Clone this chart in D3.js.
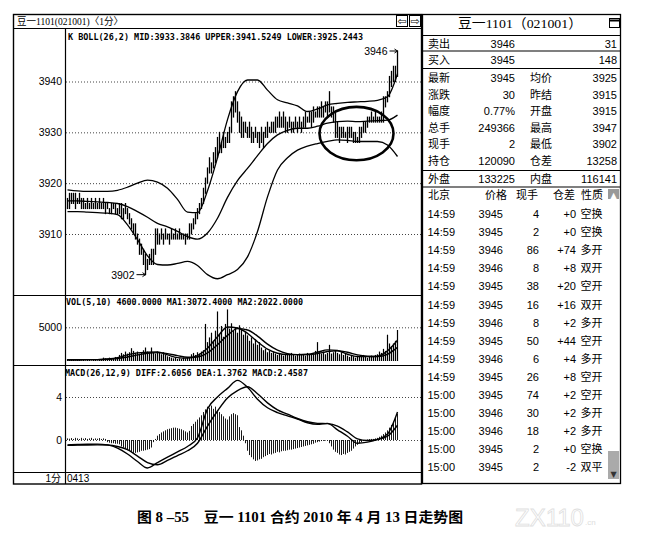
<!DOCTYPE html>
<html><head><meta charset="utf-8">
<script src="https://cdn.jsdelivr.net/npm/d3@7/dist/d3.min.js"></script>
<style>html,body{margin:0;padding:0;background:#fff}svg{display:block}</style>
</head><body>
<svg id="chart" width="663" height="540"></svg>
<script>
// ---------------- DATA ----------------
const barHigh = [
3917,3918,3918,3918,3918,3917,3918,3917,3917,3916,
3917,3916,3917,3916,3917,3916,3917,3916,3917,3916,
3916,3915,3916,3916,3916,3915,3916,3916,3915,3916,
3915,3914,3913,3912,3912,3910,3909,3908,3907,3906,
3905,3906,3907,3907,3911,3911,3910,3911,3910,3911,
3910,3910,3911,3910,3911,3910,3911,3910,3910,3910,
3910,3912,3912,3913,3914,3915,3916,3917,3919,3921,
3923,3925,3924,3926,3927,3929,3930,3928,3930,3929,
3930,3931,3936,3937,3938,3936,3934,3933,3932,3932,
3931,3932,3931,3930,3931,3930,3930,3931,3930,3931,
3932,3931,3932,3932,3933,3933,3934,3933,3934,3933,
3932,3933,3932,3932,3933,3932,3933,3932,3933,3934,
3933,3934,3934,3935,3934,3935,3935,3936,3935,3936,
3936,3938,3935,3935,3934,3932,3931,3931,3931,3930,
3931,3931,3931,3930,3930,3929,3931,3931,3932,3932,
3933,3933,3934,3933,3934,3933,3933,3934,3937,3937,
3938,3941,3942,3943,3943,3946];
const barLow = [
3915,3915,3916,3916,3915,3916,3916,3915,3915,3915,
3915,3915,3915,3915,3915,3915,3915,3915,3915,3914,
3915,3914,3914,3915,3914,3914,3914,3913,3913,3914,
3913,3912,3911,3910,3909,3908,3906,3906,3904,3902,
3903,3904,3904,3904,3906,3908,3908,3909,3908,3909,
3909,3908,3909,3909,3909,3909,3909,3909,3909,3908,
3909,3909,3910,3911,3912,3913,3914,3915,3916,3918,
3920,3922,3922,3923,3924,3925,3926,3926,3927,3927,
3928,3928,3930,3933,3934,3932,3930,3929,3929,3930,
3929,3929,3928,3928,3929,3928,3927,3928,3927,3929,
3929,3930,3930,3930,3930,3931,3931,3931,3931,3930,
3930,3931,3930,3930,3931,3930,3931,3930,3931,3931,
3932,3932,3931,3932,3933,3933,3933,3933,3933,3934,
3933,3934,3933,3932,3929,3929,3928,3929,3929,3929,
3928,3929,3929,3928,3928,3928,3928,3929,3930,3930,
3931,3932,3932,3932,3932,3932,3932,3932,3932,3935,
3936,3937,3939,3940,3940,3941];
const volume = [
300,200,150,200,100,150,200,100,150,100,200,150,100,150,200,100,150,
300,500,400,300,500,400,300,600,500,
900,1200,1000,1400,1100,1300,1900,1500,1200,1400,1100,1300,1600,2000,1400,1200,
2000,1300,1100,1400,1200,1000,1300,900,
700,600,500,400,500,300,400,300,500,400,600,500,
1000,1200,900,1300,1100,1400,1600,
5500,
2800,3500,4200,3000,4500,
7350,
4000,5200,3600,5500,
7650,
4800,5600,4500,5000,4200,5300,4600,3900,4400,
3800,3000,3500,2600,3200,2400,2800,
2000,1600,1800,1300,1500,1200,1400,
1100,900,1200,1000,800,1100,900,1000,1200,900,800,1000,1100,900,1000,800,1200,900,
1000,1200,1500,2800,1300,1100,1400,1000,1200,2400,1100,1300,1500,1200,1000,1300,900,1100,
800,600,900,700,500,800,600,700,900,600,500,700,800,600,900,
1000,1400,1200,1800,1500,3900,
2600,2200,2600,3000,4600];
const macdHist = [
0.15,0.12,0.18,0.1,0.2,0.15,0.1,0.2,0.12,0.18,0.1,0.15,0.2,0.1,0.15,0.12,0.18,0.1,0.15,0.1,
-0.2,-0.25,-0.3,-0.3,-0.35,-0.35,
-0.4,-0.6,-0.7,-0.8,-0.95,-1.0,-1.1,-1.2,-1.2,-1.15,-1.1,-1.0,-1.0,-0.95,-0.9,-0.85,-0.7,
-0.2,0.1,
0.4,0.55,0.7,0.8,0.9,1.0,1.05,1.1,1.15,1.15,1.1,1.05,1.0,0.9,0.8,0.7,0.85,
1.3,1.5,1.7,1.9,2.1,2.3,2.6,2.85,3.1,
3.0,3.2,2.9,3.1,2.8,
2.6,2.4,2.2,2.0,1.9,
2.2,2.4,2.5,2.4,2.3,
1.2,0.9,0.4,
-0.3,
-1.0,-1.4,-1.6,-1.8,-1.95,-1.9,-1.8,-1.75,
-1.6,-1.5,-1.4,-1.3,-1.35,-1.25,-1.2,-1.1,-1.15,-1.05,-1.0,-1.0,-0.95,-0.9,-0.9,-0.85,
-0.8,-0.75,-0.7,-0.65,-0.6,-0.55,-0.5,-0.45,-0.4,-0.35,
-0.25,-0.2,-0.15,-0.1,-0.08,-0.05,-0.05,
-0.3,-0.6,-0.9,-1.1,-1.2,-1.35,-1.4,-1.3,-1.35,-1.2,-1.1,-1.0,
-0.8,-0.6,-0.45,-0.3,-0.2,
-0.1,0.0,0.05,0.08,0.1,0.1,
0.15,0.2,0.3,0.4,0.55,0.7,0.9,1.15,1.4,1.7,2.1,2.4587];

// indicator lines, read at every 5th bar
const lineBars = [0,5,10,15,20,25,30,35,40,45,50,55,60,65,70,75,80,85,90,95,100,105,110,115,120,125,130,135,140,145,150,155,160,165];
const bollUpper = [3918.7,3918.5,3918.4,3918.4,3918.4,3918.6,3919.2,3920.0,3920.6,3920.2,3919.0,3916.8,3914.3,3914.2,3918.5,3925.0,3932.5,3938.0,3940.3,3940.3,3938.3,3936.4,3935.8,3935.2,3934.1,3934.6,3935.4,3935.7,3935.9,3936.0,3936.1,3936.3,3937.0,3941.5249];
const bollMid = [3916.5,3916.5,3916.4,3916.3,3916.2,3916.0,3915.4,3914.4,3913.3,3912.1,3911.4,3910.5,3909.5,3909.0,3910.2,3913.1,3917.2,3920.5,3922.9,3925.4,3927.8,3929.5,3930.4,3930.8,3930.8,3931.2,3931.8,3932.1,3932.2,3932.1,3932.2,3932.3,3932.4,3933.3846];
const bollLower = [3914.4,3914.4,3914.3,3914.2,3914.1,3913.8,3911.8,3908.9,3905.7,3904.0,3903.9,3904.2,3904.6,3903.8,3902.0,3901.2,3902.0,3903.0,3905.5,3910.5,3917.3,3922.6,3925.0,3926.5,3927.3,3927.8,3928.2,3928.5,3928.4,3928.2,3928.2,3928.2,3927.5,3925.2443];
const volMA1 = [150,150,200,200,300,500,900,1200,1300,1350,900,500,420,800,1900,3600,5050,4900,4100,2850,1750,1150,950,950,1000,1300,1650,1550,1000,650,650,700,1500,3072.4];
const volMA2 = [200,200,200,200,250,350,600,900,1150,1250,1100,800,550,600,1200,2400,3800,4800,4600,3700,2500,1600,1100,950,950,1100,1400,1500,1300,900,700,650,1000,2022];
const diffLine = [-0.45,-0.42,-0.4,-0.38,-0.45,-0.75,-1.3,-2.0,-2.6,-2.1,-1.6,-1.1,-0.6,0.2,2.9,4.0,4.8,5.55,4.9,3.8,3.0,2.55,2.25,1.95,1.6,1.45,1.55,0.95,0.35,-0.3,-0.2,0.05,0.55,2.6056];
const deaLine = [-0.5,-0.48,-0.46,-0.45,-0.47,-0.6,-0.9,-1.5,-2.1,-2.3,-1.9,-1.45,-1.0,-0.3,1.3,2.7,3.9,4.6,4.95,4.3,3.45,2.8,2.4,2.0,1.7,1.55,1.52,1.3,0.75,0.1,-0.05,0.05,0.35,1.3762];

const priceTicks = [3910,3920,3930,3940];
const volTicks = [5000];
const macdTicks = [0,4];

// right-hand quote panel
const contractTitle = "豆一1101（021001）";
const askBidLabels = ["卖出","买入"];
const askBidPrices = ["3946","3945"];
const askBidSizes = ["31","148"];
const quoteLabelsA = ["最新","涨跌","幅度","总手","现手","持仓"];
const quoteValuesA = ["3945","30","0.77%","249366","2","120090"];
const quoteLabelsB = ["均价","昨结","开盘","最高","最低","仓差"];
const quoteValuesB = ["3925","3915","3915","3947","3902","13258"];
const outerInner = ["外盘","133225","内盘","116141"];
const tickHeader = ["北京","价格","现手","仓差","性质"];
const tickTime  = ["14:59","14:59","14:59","14:59","14:59","14:59","14:59","14:59","14:59","14:59","15:00","15:00","15:00","15:00","15:00"];
const tickPrice = [3945,3945,3946,3946,3945,3945,3946,3945,3946,3945,3945,3946,3946,3945,3945];
const tickVol   = [4,2,86,8,38,16,8,50,6,26,74,30,18,2,2];
const tickOI    = ["+0","+0","+74","+8","+20","+16","+2","+44","+4","+8","+2","+2","+2","+0","-2"];
const tickType  = ["空换","空换","多开","双开","空开","双开","多开","空开","多开","空开","空开","多开","多开","空换","双平"];

const caption = "图 8 –55　豆一 1101 合约 2010 年 4 月 13 日走势图";

// ---------------- DRAW ----------------
const SANS = '"Liberation Sans", Arial, "Noto Sans CJK SC", sans-serif';
const MONO = '"DejaVu Sans Mono", "Liberation Mono", monospace';
const SERIF = '"Liberation Serif", "Noto Sans CJK SC", serif';
const svg = d3.select("#chart");
const N = barHigh.length;
const last = lineBars.length - 1;

const x = d3.scaleLinear().domain([0, N - 1]).range([67.5, 397.5]);
const yP = d3.scaleLinear().domain([3910, 3940]).range([234, 81.5]);
const yV = d3.scaleLinear().domain([0, 5000]).range([361, 327.3]);
const yM = d3.scaleLinear().domain([0, 4]).range([440, 397]);

function hline(y, x1, x2, w) { svg.append("line").attr("x1", x1).attr("x2", x2).attr("y1", y).attr("y2", y).attr("stroke", "#000").attr("stroke-width", w || 1); }
function vline(xx, y1, y2, w) { svg.append("line").attr("x1", xx).attr("x2", xx).attr("y1", y1).attr("y2", y2).attr("stroke", "#000").attr("stroke-width", w || 1); }
function text(s, xx, yy, size, opts) {
  opts = opts || {};
  const t = svg.append("text").attr("x", xx).attr("y", yy).attr("font-size", size)
    .attr("font-family", opts.family || SANS).attr("fill", opts.fill || "#000")
    .attr("text-anchor", opts.anchor || "start").text(s);
  if (opts.weight) t.attr("font-weight", opts.weight);
  if (opts.len) t.attr("textLength", opts.len).attr("lengthAdjust", "spacingAndGlyphs");
  return t;
}

// grid lines (dotted)
function grid(scale, ticks) {
  const g = svg.append("g").attr("transform", "translate(66,0)")
    .call(d3.axisRight(scale).tickValues(ticks).tickSize(355).tickFormat(""));
  g.select(".domain").remove();
  g.selectAll(".tick line").attr("stroke", "#444").attr("stroke-dasharray", "1,2").attr("stroke-width", 1);
}
grid(yP, priceTicks); grid(yV, volTicks); grid(yM, macdTicks);

// axis labels
function labels(scale, ticks) {
  const g = svg.append("g").attr("transform", "translate(62,0)")
    .call(d3.axisLeft(scale).tickValues(ticks).tickSize(0).tickPadding(0).tickFormat(d3.format("d")));
  g.select(".domain").remove();
  g.attr("font-family", SANS).attr("font-size", 10.5);
  g.selectAll("text").attr("fill", "#000");
}
labels(yP, priceTicks); labels(yV, volTicks); labels(yM, macdTicks);

// frames of left chart
svg.append("rect").attr("x", 13.5).attr("y", 14.5).attr("width", 408).attr("height", 469.5)
  .attr("fill", "none").attr("stroke", "#000").attr("stroke-width", 1.4);
hline(28.5, 13, 422, 1.2);
vline(65.5, 28.5, 484, 1.2);
hline(295.5, 13, 422, 1.2);
hline(365.5, 13, 422, 1.2);
hline(472.5, 13, 422, 1.2);

// header of left chart
text("豆一1101(021001)〈1分〉", 17, 25, 10, { family: SERIF, len: 106 });
[[396, "⇦"], [409, "⇨"]].forEach(([bx, a]) => {
  svg.append("rect").attr("x", bx + 0.5).attr("y", 15.5).attr("width", 11).attr("height", 11).attr("fill", "#fff").attr("stroke", "#000");
  text(a, bx + 6, 25, 11, { anchor: "middle", family: '"DejaVu Sans", sans-serif' });
});

// indicator headers
const f4 = d3.format(".4f");
text(`K  BOLL(26,2) MID:${f4(bollMid[last])} UPPER:${f4(bollUpper[last])} LOWER:${f4(bollLower[last])}`, 68, 40, 8.6, { family: MONO, weight: "bold", len: 295 });
text(`VOL(5,10) ${f4(volume[N - 1])} MA1:${f4(volMA1[last])} MA2:${f4(volMA2[last])}`, 66, 305, 8.6, { family: MONO, weight: "bold", len: 237 });
text(`MACD(26,12,9) DIFF:${f4(diffLine[last])} DEA:${f4(deaLine[last])} MACD:${f4(macdHist[N - 1])}`, 65, 375.5, 8.6, { family: MONO, weight: "bold", len: 243 });

// Bollinger bands
function drawLine(vals, yScale, w) {
  const line = d3.line().x((d, i) => x(lineBars[i])).y(d => yScale(d)).curve(d3.curveMonotoneX);
  svg.append("path").attr("d", line(vals)).attr("fill", "none").attr("stroke", "#000").attr("stroke-width", w);
}
drawLine(bollUpper, yP, 1.3);
drawLine(bollMid, yP, 1.3);
drawLine(bollLower, yP, 1.3);

// price bars
svg.append("g").selectAll("line").data(barHigh).join("line")
  .attr("x1", (d, i) => x(i)).attr("x2", (d, i) => x(i))
  .attr("y1", d => yP(d) - 0.5).attr("y2", (d, i) => yP(barLow[i]) + 0.5)
  .attr("stroke", "#000").attr("stroke-width", 1.3);

// extreme annotations
const iMax = d3.maxIndex(barHigh), iMin = d3.minIndex(barLow);
text(String(barHigh[iMax]), x(iMax) - 10, yP(barHigh[iMax]) + 4, 10.5, { anchor: "end" });
svg.append("path").attr("d", `M${x(iMax) - 8},${yP(barHigh[iMax])}H${x(iMax)}M${x(iMax) - 3},${yP(barHigh[iMax]) - 2}L${x(iMax)},${yP(barHigh[iMax])}L${x(iMax) - 3},${yP(barHigh[iMax]) + 2}`)
  .attr("stroke", "#000").attr("fill", "none");
text(String(barLow[iMin]), x(iMin) - 11, yP(barLow[iMin]) + 4, 10.5, { anchor: "end" });
svg.append("path").attr("d", `M${x(iMin) - 9},${yP(barLow[iMin])}H${x(iMin)}M${x(iMin) - 3},${yP(barLow[iMin]) - 2}L${x(iMin)},${yP(barLow[iMin])}L${x(iMin) - 3},${yP(barLow[iMin]) + 2}`)
  .attr("stroke", "#000").attr("fill", "none");

// circled consolidation area (bars 126-163, prices 3924.5-3935)
const ex0 = x(126), ex1 = x(163), ey0 = yP(3935), ey1 = yP(3924.5);
svg.append("ellipse").attr("cx", (ex0 + ex1) / 2).attr("cy", (ey0 + ey1) / 2)
  .attr("rx", (ex1 - ex0) / 2).attr("ry", (ey1 - ey0) / 2)
  .attr("fill", "none").attr("stroke", "#000").attr("stroke-width", 2.6);

// volume bars
svg.append("g").selectAll("line").data(volume).join("line")
  .attr("x1", (d, i) => x(i)).attr("x2", (d, i) => x(i))
  .attr("y1", yV(0)).attr("y2", d => yV(d))
  .attr("stroke", "#000").attr("stroke-width", 1.2);
drawLine(volMA1, yV, 1.4);
drawLine(volMA2, yV, 1.4);

// MACD histogram
svg.append("g").selectAll("line").data(macdHist).join("line")
  .attr("x1", (d, i) => x(i)).attr("x2", (d, i) => x(i))
  .attr("y1", yM(0)).attr("y2", d => yM(d))
  .attr("stroke", "#000").attr("stroke-width", 0.9);
drawLine(diffLine, yM, 1.4);
drawLine(deaLine, yM, 1.4);

// bottom row
text("1分", 61, 481.5, 10, { anchor: "end" });
text("0413", 67, 481.5, 10);

// ---------------- right panel ----------------
svg.append("rect").attr("x", 422.5).attr("y", 14.5).attr("width", 198).attr("height", 469)
  .attr("fill", "#fff").attr("stroke", "#000").attr("stroke-width", 1.3);
[35.5, 51, 68.5, 170.5, 187].forEach(yy => hline(yy, 422, 621, 1.2));
text(contractTitle, 458, 28, 13.5, { family: SERIF, len: 124 });
svg.append("rect").attr("x", 609.5).attr("y", 18.5).attr("width", 10).attr("height", 9).attr("fill", "#fff").attr("stroke", "#000");
hline(20.5, 609, 620, 2);

const CJK = '"Noto Sans CJK SC", sans-serif';
askBidLabels.forEach((lab, k) => {
  const yy = [47.5, 64][k];
  text(lab, 428, yy, 11, { family: CJK });
  text(askBidPrices[k], 515, yy, 11, { anchor: "end" });
  text(askBidSizes[k], 617, yy, 11, { anchor: "end" });
});
quoteLabelsA.forEach((lab, k) => {
  const yy = 82.3 + k * 16.5;
  text(lab, 428, yy, 11, { family: CJK });
  text(quoteValuesA[k], 515, yy, 11, { anchor: "end" });
  text(quoteLabelsB[k], 530, yy, 11, { family: CJK });
  text(quoteValuesB[k], 617, yy, 11, { anchor: "end" });
});
text(outerInner[0], 428, 182.5, 11, { family: CJK });
text(outerInner[1], 515, 182.5, 11, { anchor: "end" });
text(outerInner[2], 530, 182.5, 11, { family: CJK });
text(outerInner[3], 617, 182.5, 11, { anchor: "end" });

// tick table
text(tickHeader[0], 428, 198.5, 11, { family: CJK });
text(tickHeader[1], 507, 198.5, 11, { family: CJK, anchor: "end" });
text(tickHeader[2], 538, 198.5, 11, { family: CJK, anchor: "end" });
text(tickHeader[3], 575, 198.5, 11, { family: CJK, anchor: "end" });
text(tickHeader[4], 581, 198.5, 11, { family: CJK });
tickTime.forEach((t, k) => {
  const yy = 218 + k * 18.1;
  text(t, 427.5, yy, 11);
  text(String(tickPrice[k]), 503, yy, 11, { anchor: "end" });
  text(String(tickVol[k]), 539, yy, 11, { anchor: "end" });
  text(tickOI[k], 576, yy, 11, { anchor: "end" });
  text(tickType[k], 580.5, yy, 11, { family: CJK });
});
// scrollbar pieces
svg.append("rect").attr("x", 608).attr("y", 189).attr("width", 11).attr("height", 10).attr("fill", "#999");
text("▲", 613.5, 197.5, 8, { anchor: "middle", fill: "#fff", family: '"DejaVu Sans", sans-serif' });
svg.append("rect").attr("x", 608).attr("y", 451).attr("width", 11).attr("height", 28).attr("fill", "#aaa");
text("▼", 613.5, 477, 8, { anchor: "middle", fill: "#333", family: '"DejaVu Sans", sans-serif' });

// caption + watermark
text(caption, 137, 522, 14, { family: SERIF, weight: "bold", len: 326 });
text("ZX110", 515, 526, 24, { family: SANS, fill: "none" }).attr("stroke", "#e0e0e0").attr("stroke-width", 0.8);
text(".cn", 585, 525, 8, { fill: "#dddddd" });
</script>
</body></html>
